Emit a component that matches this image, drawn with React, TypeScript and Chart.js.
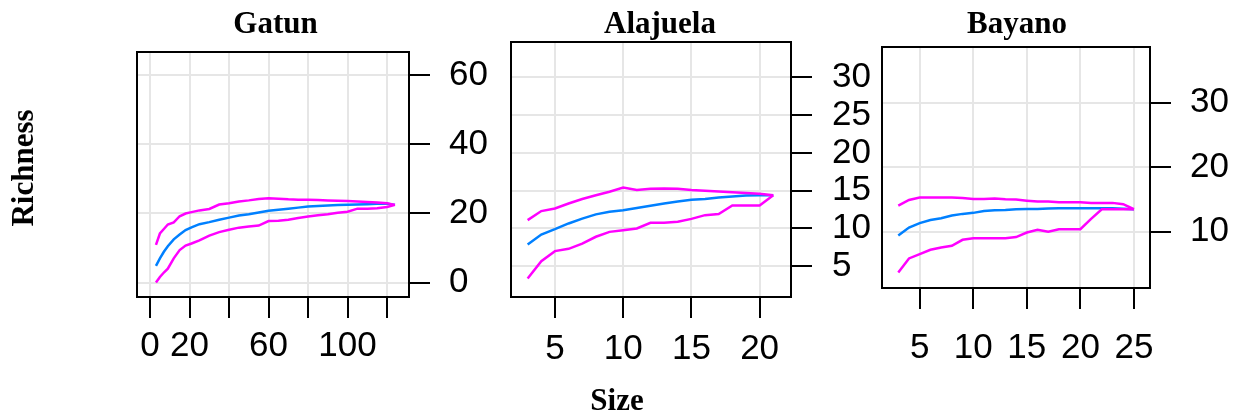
import React, { useEffect, useRef } from 'react';
import { Chart, registerables } from 'chart.js';
Chart.register(...registerables);

const W = 1238;
const H = 417;

// ---------- Gatun ----------
const gatunX = [3, 5, 7, 9, 12, 15, 18, 21, 25, 30, 35, 40, 45, 50, 55, 60, 65, 70, 75, 80, 85, 90, 95, 100, 105, 110, 115, 120, 124];
const gatunMean = [4.8, 7.0, 8.9, 10.5, 12.5, 13.9, 15.2, 16.0, 16.9, 17.5, 18.2, 18.8, 19.4, 19.8, 20.3, 20.8, 21.1, 21.4, 21.7, 22.0, 22.2, 22.35, 22.45, 22.55, 22.6, 22.7, 22.8, 22.85, 22.5];
const gatunUpper = [10.9, 14.2, 15.5, 16.8, 17.4, 19.2, 20.0, 20.4, 20.9, 21.3, 22.6, 23.0, 23.5, 23.8, 24.2, 24.4, 24.3, 24.1, 24.0, 23.95, 23.9, 23.8, 23.7, 23.6, 23.45, 23.35, 23.2, 23.0, 22.5];
const gatunLower = [0, 1.6, 2.9, 4.0, 7.0, 9.4, 10.7, 11.3, 12.2, 13.6, 14.6, 15.3, 15.9, 16.2, 16.5, 17.8, 17.9, 18.2, 18.7, 19.1, 19.5, 19.8, 20.2, 20.5, 21.4, 21.4, 21.5, 21.9, 22.5];
const gatunXTicks = [0, 20, 40, 60, 80, 100, 120];
const gatunXLabels = ['0', '20', '', '60', '', '100', ''];
const gatunYTicks = [0, 20, 40, 60];

// ---------- Alajuela ----------
const alajuelaX = [3, 4, 5, 6, 7, 8, 9, 10, 11, 12, 13, 14, 15, 16, 17, 18, 19, 20, 21];
const alajuelaMean = [7.88, 9.2, 9.9, 10.66, 11.3, 11.86, 12.2, 12.4, 12.7, 13.0, 13.3, 13.58, 13.8, 13.9, 14.1, 14.24, 14.37, 14.4, 14.4];
const alajuelaUpper = [11.1, 12.3, 12.65, 13.3, 13.9, 14.4, 14.85, 15.4, 15.1, 15.25, 15.3, 15.25, 15.1, 15.0, 14.9, 14.8, 14.7, 14.6, 14.4];
const alajuelaLower = [3.37, 5.66, 7.0, 7.3, 8.0, 8.9, 9.55, 9.77, 10.0, 10.74, 10.74, 10.88, 11.27, 11.76, 11.9, 13.05, 13.05, 13.05, 14.4];
const alajuelaXTicks = [5, 10, 15, 20];
const alajuelaXLabels = ['5', '10', '15', '20'];
const alajuelaYTicks = [5, 10, 15, 20, 25, 30];

// ---------- Bayano ----------
const bayanoX = [3, 4, 5, 6, 7, 8, 9, 10, 11, 12, 13, 14, 15, 16, 17, 18, 19, 20, 21, 22, 23, 24, 25];
const bayanoMean = [9.38, 10.62, 11.3, 11.8, 12.07, 12.48, 12.74, 12.9, 13.2, 13.3, 13.36, 13.46, 13.5, 13.5, 13.57, 13.62, 13.62, 13.62, 13.62, 13.62, 13.62, 13.55, 13.46];
const bayanoUpper = [14.03, 14.9, 15.27, 15.27, 15.3, 15.27, 15.22, 15.07, 15.07, 15.12, 15.0, 14.96, 14.8, 14.65, 14.65, 14.55, 14.55, 14.55, 14.45, 14.45, 14.45, 14.24, 13.46];
const bayanoLower = [3.64, 5.81, 6.5, 7.16, 7.52, 7.78, 8.71, 8.97, 8.97, 8.97, 8.97, 9.13, 9.85, 10.26, 9.95, 10.36, 10.36, 10.36, 11.97, 13.46, 13.46, 13.46, 13.46];
const bayanoXTicks = [5, 10, 15, 20, 25];
const bayanoXLabels = ['5', '10', '15', '20', '25'];
const bayanoYTicks = [10, 20, 30];

const BLUE = '#0080ff';
const PINK = '#ff00ff';
const GRID = '#e6e6e6';
const SANS = '"Liberation Sans", Arial, Helvetica, sans-serif';
const SERIF = '"Liberation Serif", "Times New Roman", serif';

type PanelCfg = {
  title: string;
  titleX: number;
  box: { l: number; r: number; t: number; b: number };
  xRange: [number, number];
  yRange: [number, number];
  x: number[];
  mean: number[];
  upper: number[];
  lower: number[];
  xTicks: number[];
  xLabels: string[];
  yTicks: number[];
  xPad: number;
  yPad: number;
  extra: boolean;
};

const panels: PanelCfg[] = [
  {
    title: 'Gatun', titleX: 275.5,
    box: { l: 137, r: 409, t: 52, b: 297 },
    xRange: [-6.6, 131.1], yRange: [-4.2, 66.8],
    x: gatunX, mean: gatunMean, upper: gatunUpper, lower: gatunLower,
    xTicks: gatunXTicks, xLabels: gatunXLabels, yTicks: gatunYTicks,
    xPad: 7, yPad: 19, extra: true,
  },
  {
    title: 'Alajuela', titleX: 660,
    box: { l: 511, r: 791, t: 42, b: 297 },
    xRange: [1.78, 22.3], yRange: [0.93, 34.67],
    x: alajuelaX, mean: alajuelaMean, upper: alajuelaUpper, lower: alajuelaLower,
    xTicks: alajuelaXTicks, xLabels: alajuelaXLabels, yTicks: alajuelaYTicks,
    xPad: 10, yPad: 20, extra: false,
  },
  {
    title: 'Bayano', titleX: 1017,
    box: { l: 882, r: 1150, t: 47, b: 288 },
    xRange: [1.48, 26.5], yRange: [1.22, 38.68],
    x: bayanoX, mean: bayanoMean, upper: bayanoUpper, lower: bayanoLower,
    xTicks: bayanoXTicks, xLabels: bayanoXLabels, yTicks: bayanoYTicks,
    xPad: 18, yPad: 19, extra: false,
  },
];

const panelPlugin = {
  id: 'panelDeco',
  afterDraw(chart: any, _args: any, opts: any) {
    const { ctx, chartArea: a } = chart;
    ctx.save();
    ctx.strokeStyle = '#000';
    ctx.lineWidth = 2;
    ctx.strokeRect(a.left, a.top, a.right - a.left, a.bottom - a.top);
    ctx.fillStyle = '#000';
    ctx.font = `bold 31px ${SERIF}`;
    ctx.textAlign = 'center';
    ctx.textBaseline = 'alphabetic';
    ctx.fillText(opts.title, opts.titleX, 33);
    if (opts.extra) {
      ctx.fillText('Size', 617, 410);
      ctx.save();
      ctx.translate(33, 168);
      ctx.rotate(-Math.PI / 2);
      ctx.fillText('Richness', 0, 0);
      ctx.restore();
    }
    ctx.restore();
  },
};

const pts = (xs: number[], ys: number[]) => xs.map((x, i) => ({ x, y: ys[i] }));

function buildConfig(p: PanelCfg): any {
  const AXW = 120;
  const AXH = 100;
  const line = (data: number[], color: string) => ({
    data: pts(p.x, data),
    borderColor: color,
    backgroundColor: color,
    borderWidth: 2.5,
    pointRadius: 0,
    tension: 0,
    fill: false,
  });
  return {
    type: 'line',
    data: {
      datasets: [line(p.lower, PINK), line(p.upper, PINK), line(p.mean, BLUE)],
    },
    plugins: [panelPlugin],
    options: {
      responsive: false,
      animation: false,
      devicePixelRatio: 1,
      layout: {
        padding: {
          left: p.box.l,
          top: p.box.t,
          right: W - p.box.r - AXW,
          bottom: H - p.box.b - AXH,
        },
      },
      plugins: {
        legend: { display: false },
        tooltip: { enabled: false },
        title: { display: false },
        panelDeco: { title: p.title, titleX: p.titleX, extra: p.extra },
      },
      scales: {
        x: {
          type: 'linear',
          position: 'bottom',
          min: p.xRange[0],
          max: p.xRange[1],
          afterBuildTicks: (s: any) => { s.ticks = p.xTicks.map((v) => ({ value: v })); },
          afterFit: (s: any) => { s.height = AXH; },
          border: { display: false },
          grid: {
            color: GRID, lineWidth: 2, drawTicks: true, tickLength: 21,
            tickColor: '#000', tickWidth: 2,
          },
          ticks: {
            autoSkip: false, maxRotation: 0, minRotation: 0,
            padding: p.xPad, color: '#000',
            font: { family: SANS, size: 35 },
            callback: (v: number) => {
              const i = p.xTicks.indexOf(v);
              return i >= 0 ? p.xLabels[i] : '';
            },
          },
        },
        y: {
          type: 'linear',
          position: 'right',
          min: p.yRange[0],
          max: p.yRange[1],
          afterBuildTicks: (s: any) => { s.ticks = p.yTicks.map((v) => ({ value: v })); },
          afterFit: (s: any) => { s.width = AXW; },
          border: { display: false },
          grid: {
            color: GRID, lineWidth: 2, drawTicks: true, tickLength: 21,
            tickColor: '#000', tickWidth: 2,
          },
          ticks: {
            autoSkip: false, padding: p.yPad, color: '#000',
            font: { family: SANS, size: 35 },
            callback: (v: number) => String(v),
          },
        },
      },
    },
  };
}

export default function App() {
  const r0 = useRef<HTMLCanvasElement>(null);
  const r1 = useRef<HTMLCanvasElement>(null);
  const r2 = useRef<HTMLCanvasElement>(null);

  useEffect(() => {
    const refs = [r0, r1, r2];
    const charts = panels.map((p, i) => new Chart(refs[i].current as HTMLCanvasElement, buildConfig(p)));
    return () => charts.forEach((c) => c.destroy());
  }, []);

  const cs: React.CSSProperties = { position: 'absolute', left: 0, top: 0, width: W, height: H };
  return (
    <div style={{ position: 'fixed', left: 0, top: 0, width: W, height: H, background: '#fff' }}>
      <canvas ref={r0} width={W} height={H} style={cs} />
      <canvas ref={r1} width={W} height={H} style={cs} />
      <canvas ref={r2} width={W} height={H} style={cs} />
    </div>
  );
}
